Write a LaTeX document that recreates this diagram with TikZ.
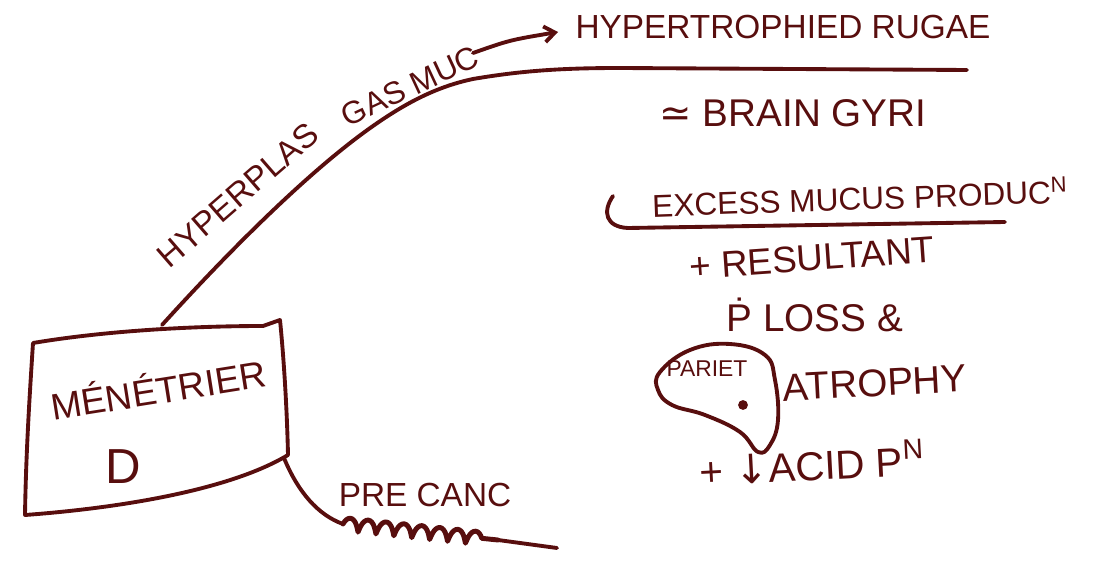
\documentclass[tikz,border=0pt]{standalone}
\usepackage{fontspec}
\setmainfont{Liberation Sans}
\newfontfamily\symfont{DejaVu Sans}
\usetikzlibrary{decorations.pathmorphing,arrows.meta}
\definecolor{ink}{RGB}{88,14,14}
\tikzset{
  pen/.style={draw=ink, line width=2.2pt, line cap=round, line join=round},
  hand/.style={text=ink, inner sep=0pt},
}
\newcommand{\fs}[1]{\fontsize{#1}{#1}\selectfont}

\begin{document}
\begin{tikzpicture}[x=0.02cm, y=-0.02cm]
  \useasboundingbox (0,0) rectangle (1108,563);

  % main box
  \draw[pen] (33,343) .. controls (110,330) and (200,326) .. (263,326) -- (280,320)
    .. controls (284,360) and (287,410) .. (288,455)
    .. controls (230,490) and (120,508) .. (25,515)
    .. controls (26,450) and (30,390) .. (33,343);
  \node[hand, rotate=9, font=\fs{21}] (men) at (158,388) {MÉNÉTRIER};
  \node[hand, font=\fs{28}] (d) at (123,467) {D};

  % upper branch
  \coordinate (b1) at (162,325);
  \coordinate (k1) at (373,126);
  \coordinate (k2) at (473,79);
  \coordinate (e1) at (967,70);
  \draw[pen] (b1) .. controls (230,250) and (310,170) .. (k1)
    .. controls (410,100) and (440,86) .. (k2)
    .. controls (520,71) and (560,68) .. (620,68) -- (e1);
  \node[hand, rotate=41, font=\fs{19}] (hyp) at (238,195) {HYPERPLAS};
  \node[hand, rotate=25, font=\fs{18}] (gas) at (410,86) {GAS MUC};

  % arrow to rugae
  \coordinate (a1) at (473,53);
  \coordinate (a2) at (558,32);
  \draw[pen, -{Straight Barb[length=6pt,width=9pt]}] (a1) .. controls (510,40) .. (a2);
  \node[hand, font=\fs{19}] (rug) at (783,27) {HYPERTROPHIED RUGAE};
  \node[hand, font=\fs{22}] (gyri) at (793,113) {{\symfont ≃} BRAIN GYRI};

  % mucus line
  \coordinate (u1) at (613,196);
  \coordinate (u2) at (1005,222);
  \draw[pen] (u1) .. controls (602,212) and (606,227) .. (628,228) -- (u2);
  \node[hand, rotate=2, font=\fs{18}] (muc) at (860,197) {EXCESS MUCUS PRODUC\textsuperscript{N}};
  \node[hand, rotate=4, font=\fs{21}] (res) at (812,258) {+ RESULTANT};
  \node[hand, font=\fs{22}] (loss) at (815,315) {\.{P} LOSS \&};

  % parietal cell
  \draw[pen] plot[smooth cycle, tension=0.7] coordinates {
    (660,372) (690,350) (730,344) (765,355) (775,380) (778,420)
    (770,445) (758,452) (740,432) (705,415) (672,405) (658,390)};
  \node[hand, font=\fs{13}] (par) at (707,369) {PARIET};
  \fill[ink] (743,405) circle (2.8pt);
  \node[hand, rotate=3, font=\fs{22}] (atr) at (875,383) {ATROPHY};
  \node[hand, rotate=3, font=\fs{23}] (acid) at (812,463) {+ {\symfont ↓}ACID P\textsuperscript{N}};

  % lower branch
  \coordinate (b2) at (284,458);
  \coordinate (z1) at (343,524);
  \coordinate (z2) at (498,540);
  \coordinate (e2) at (557,548);
  \draw[pen] (b2) .. controls (298,492) and (318,515) .. (z1);
  \draw[pen, line width=2.8pt, decorate, decoration={coil, amplitude=1.3mm, segment length=3.6mm, aspect=0.35}] (z1) -- (z2);
  \draw[pen] (z2) -- (e2);
  \node[hand, font=\fs{19}] (pre) at (425,495) {PRE CANC};
\end{tikzpicture}
\end{document}
